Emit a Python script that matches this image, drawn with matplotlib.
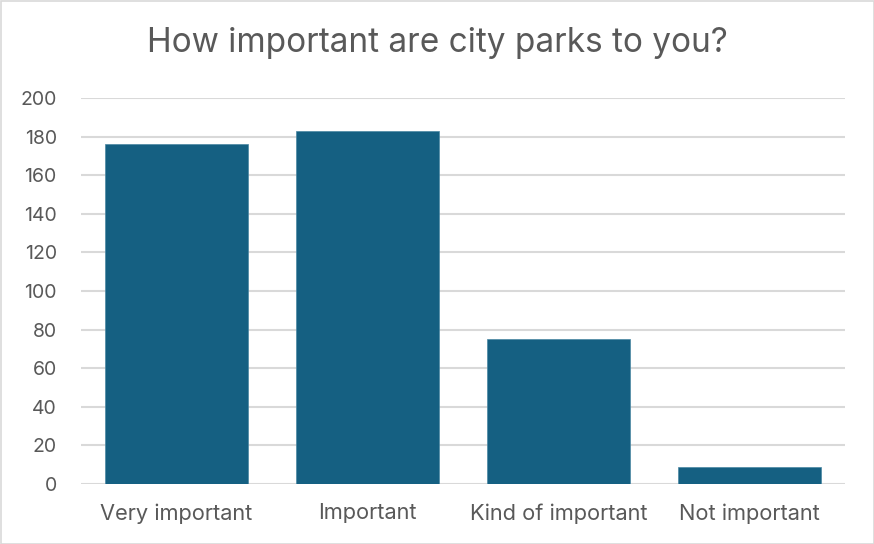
import matplotlib
matplotlib.use("Agg")
import matplotlib.pyplot as plt
from matplotlib.patches import Rectangle

categories = ["Very important", "Important", "Kind of important", "Not important"]
values = [176, 183, 75, 9]
yticks = [0, 20, 40, 60, 80, 100, 120, 140, 160, 180, 200]
title = "How important are city parks to you?"

plt.rcParams['font.family'] = ['Inter', 'DejaVu Sans']
text_color = "#595959"
grid_color = "#d9d9d9"
bar_color = "#156082"

fig = plt.figure(figsize=(8.74, 5.44), dpi=100)
ax = fig.add_axes([81/874, 1-484/544, (845-81)/874, (484-98)/544])

x = list(range(len(categories)))
ax.bar(x, values, width=0.745, color=bar_color, edgecolor="#4a87a3", linewidth=0.5, zorder=3)

ax.set_xlim(-0.5, len(categories) - 0.5)
ax.set_ylim(0, 200)
ax.set_yticks(yticks)
ax.set_yticklabels([str(v) for v in yticks])
ax.set_xticks(x)
ax.set_xticklabels(categories)
ax.tick_params(axis='both', length=0, colors=text_color)
ax.tick_params(axis='y', pad=17.5, labelsize=14)
ax.tick_params(axis='x', pad=14, labelsize=15.7)
ax.yaxis.grid(True, color=grid_color, linewidth=1.5, zorder=0)
for s in ax.spines.values():
    s.set_visible(False)

fig.text(0.5, 1-52/544, title, ha='center', va='baseline', fontsize=24, color=text_color)

fig.patches.append(Rectangle((0.5/874, 0.5/544), 1-1/874, 1-1/544, transform=fig.transFigure,
                             fill=False, edgecolor=grid_color, linewidth=1.2))

fig.savefig("out.png", dpi=100)
